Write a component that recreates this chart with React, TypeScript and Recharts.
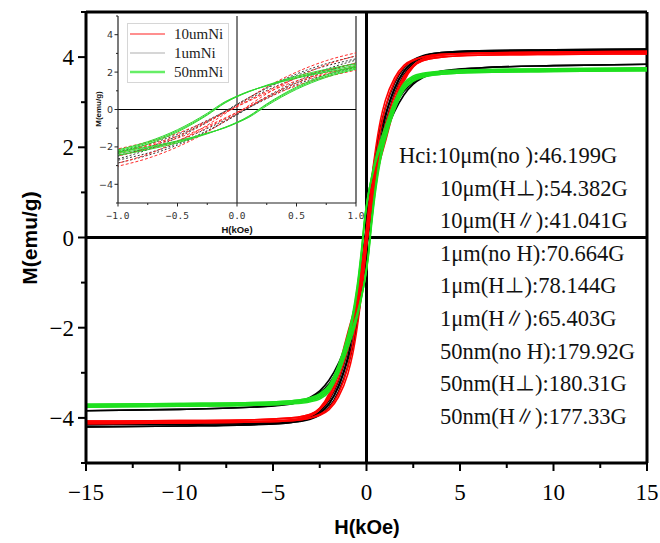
import { LineChart, Line, XAxis, YAxis, ReferenceLine } from "recharts";

// applied field grid (kOe), shared by every branch below
const fieldH = [-15, -10, -6, -4, -3, -2.5, -2, -1.5, -1, -0.75, -0.5, -0.25, -0.1, 0, 0.1, 0.25, 0.5, 0.75, 1, 1.5, 2, 2.5, 3, 4, 6, 10, 15];

const black1Down = [-4.2, -4.18, -4.15, -4.1, -4.01, -3.9, -3.68, -3.28, -2.64, -2.15, -1.5, -0.69, -0.12, 0.27, 0.64, 1.17, 1.9, 2.45, 2.86, 3.42, 3.76, 3.94, 4.03, 4.1, 4.14, 4.16, 4.18];
const black1Up = [-4.2, -4.18, -4.15, -4.1, -4.03, -3.94, -3.76, -3.42, -2.86, -2.45, -1.9, -1.17, -0.64, -0.27, 0.12, 0.69, 1.5, 2.15, 2.64, 3.28, 3.68, 3.9, 4.01, 4.1, 4.14, 4.16, 4.18];
const black2Down = [-3.84, -3.81, -3.76, -3.67, -3.54, -3.4, -3.16, -2.79, -2.26, -1.86, -1.33, -0.58, -0.1, 0.23, 0.56, 1.02, 1.67, 2.1, 2.44, 2.91, 3.24, 3.44, 3.56, 3.69, 3.76, 3.81, 3.84];
const black2Up = [-3.84, -3.81, -3.76, -3.69, -3.56, -3.44, -3.24, -2.91, -2.44, -2.1, -1.67, -1.02, -0.56, -0.23, 0.1, 0.58, 1.33, 1.86, 2.26, 2.79, 3.16, 3.4, 3.54, 3.67, 3.76, 3.81, 3.84];
const black3Down = [-4.15, -4.14, -4.12, -4.08, -3.98, -3.86, -3.61, -3.18, -2.49, -2.03, -1.42, -0.63, -0.09, 0.28, 0.63, 1.13, 1.82, 2.33, 2.71, 3.32, 3.69, 3.9, 4.0, 4.08, 4.12, 4.14, 4.15];
const black3Up = [-4.15, -4.14, -4.12, -4.08, -4.0, -3.9, -3.69, -3.32, -2.71, -2.33, -1.82, -1.13, -0.63, -0.28, 0.09, 0.63, 1.42, 2.03, 2.49, 3.18, 3.61, 3.86, 3.98, 4.08, 4.12, 4.14, 4.15];
const red1Down = [-4.13, -4.11, -4.09, -4.06, -4.0, -3.92, -3.78, -3.46, -2.87, -2.39, -1.7, -0.84, -0.22, 0.21, 0.62, 1.2, 2.0, 2.61, 3.03, 3.54, 3.82, 3.94, 4.0, 4.06, 4.09, 4.11, 4.13];
const red1Up = [-4.13, -4.11, -4.09, -4.06, -4.0, -3.94, -3.82, -3.54, -3.03, -2.61, -2.0, -1.2, -0.62, -0.21, 0.22, 0.84, 1.7, 2.39, 2.87, 3.46, 3.78, 3.92, 4.0, 4.06, 4.09, 4.11, 4.13];
const red2Down = [-4.07, -4.06, -4.04, -4.0, -3.92, -3.79, -3.52, -3.05, -2.32, -1.9, -1.42, -0.67, -0.17, 0.16, 0.49, 0.97, 1.68, 2.1, 2.48, 3.15, 3.58, 3.81, 3.92, 4.0, 4.04, 4.06, 4.07];
const red2Up = [-4.07, -4.06, -4.04, -4.0, -3.92, -3.81, -3.58, -3.15, -2.48, -2.1, -1.68, -0.97, -0.49, -0.16, 0.17, 0.67, 1.42, 1.9, 2.32, 3.05, 3.52, 3.79, 3.92, 4.0, 4.04, 4.06, 4.07];
const red3Down = [-4.1, -4.09, -4.08, -4.04, -3.94, -3.78, -3.46, -2.89, -2.11, -1.74, -1.27, -0.61, -0.15, 0.15, 0.45, 0.89, 1.53, 1.96, 2.29, 3.01, 3.54, 3.82, 3.96, 4.04, 4.08, 4.09, 4.1];
const red3Up = [-4.1, -4.09, -4.08, -4.04, -3.96, -3.82, -3.54, -3.01, -2.29, -1.96, -1.53, -0.89, -0.45, -0.15, 0.15, 0.61, 1.27, 1.74, 2.11, 2.89, 3.46, 3.78, 3.94, 4.04, 4.08, 4.09, 4.1];
const green1Down = [-3.76, -3.74, -3.72, -3.68, -3.62, -3.55, -3.38, -2.95, -2.3, -1.85, -1.2, -0.3, 0.35, 0.68, 0.95, 1.3, 1.78, 2.15, 2.45, 3.02, 3.42, 3.58, 3.64, 3.69, 3.72, 3.74, 3.76];
const green1Up = [-3.76, -3.74, -3.72, -3.69, -3.64, -3.58, -3.42, -3.02, -2.45, -2.15, -1.78, -1.3, -0.95, -0.68, -0.35, 0.3, 1.2, 1.85, 2.3, 2.95, 3.38, 3.55, 3.62, 3.68, 3.72, 3.74, 3.76];
const green2Down = [-3.73, -3.71, -3.69, -3.65, -3.58, -3.5, -3.32, -2.88, -2.22, -1.78, -1.14, -0.26, 0.38, 0.7, 0.96, 1.28, 1.72, 2.06, 2.36, 2.94, 3.36, 3.53, 3.6, 3.66, 3.69, 3.71, 3.73];
const green2Up = [-3.73, -3.71, -3.69, -3.66, -3.6, -3.53, -3.36, -2.94, -2.36, -2.06, -1.72, -1.28, -0.96, -0.7, -0.38, 0.26, 1.14, 1.78, 2.22, 2.88, 3.32, 3.5, 3.58, 3.65, 3.69, 3.71, 3.73];
const green3Down = [-3.7, -3.68, -3.66, -3.62, -3.55, -3.46, -3.27, -2.82, -2.16, -1.72, -1.08, -0.2, 0.42, 0.72, 0.98, 1.26, 1.68, 2.0, 2.28, 2.88, 3.3, 3.49, 3.56, 3.62, 3.66, 3.68, 3.7];
const green3Up = [-3.7, -3.68, -3.66, -3.62, -3.56, -3.49, -3.3, -2.88, -2.28, -2.0, -1.68, -1.26, -0.98, -0.72, -0.42, 0.2, 1.08, 1.72, 2.16, 2.82, 3.27, 3.46, 3.55, 3.62, 3.66, 3.68, 3.7];

const loops = [
    { id: "b1", group: "black", down: black1Down, up: black1Up },
    { id: "b2", group: "black", down: black2Down, up: black2Up },
    { id: "b3", group: "black", down: black3Down, up: black3Up },
    { id: "r1", group: "red", down: red1Down, up: red1Up },
    { id: "r2", group: "red", down: red2Down, up: red2Up },
    { id: "r3", group: "red", down: red3Down, up: red3Up },
    { id: "g1", group: "green", down: green1Down, up: green1Up },
    { id: "g2", group: "green", down: green2Down, up: green2Up },
    { id: "g3", group: "green", down: green3Down, up: green3Up },
];

const legendNames = ["10umNi", "1umNi", "50nmNi"];
const hciLabels = [
    "Hci:10μm(no ):46.199G",
    "10μm(H⊥):54.382G",
    "10μm(H∥):41.041G",
    "1μm(no H):70.664G",
    "1μm(H⊥):78.144G",
    "1μm(H∥):65.403G",
    "50nm(no H):179.92G",
    "50nm(H⊥):180.31G",
    "50nm(H∥):177.33G",
];

const mainXTicks = [-15, -12.5, -10, -7.5, -5, -2.5, 0, 2.5, 5, 7.5, 10, 12.5, 15];
const mainYTicks = [-5, -4, -3, -2, -1, 0, 1, 2, 3, 4, 5];
const insetXTicks = [-1, -0.75, -0.5, -0.25, 0, 0.25, 0.5, 0.75, 1];
const insetYTicks = [-5, -4, -3, -2, -1, 0, 1, 2, 3, 4, 5];

const mainColor: Record<string, string> = { black: "#000000", red: "#ff0000", green: "#1ee01e" };
const insetColor: Record<string, string> = { black: "#3a3a3a", red: "#ff2a2a", green: "#2ed82e" };
const insetDash: Record<string, string | undefined> = { black: "2 2", red: "3 2", green: undefined };
const legendColor = ["#ff6a6a", "#c8c8c8", "#66ee66"];

const toPoints = (vals: number[]) => fieldH.map((h, i) => ({ h, m: vals[i] }));

const SERIF = "'Liberation Serif', 'Times New Roman', serif";
const SANS = "'Liberation Sans', Arial, sans-serif";

const fmt = (v: number, digits = 0) => (v < 0 ? "\u2212" : "") + Math.abs(v).toFixed(digits);

function MainXTick({ x, y, payload }: any) {
    const v = payload.value;
    const major = v % 5 === 0;
    return (
        <g>
            <line x1={x} x2={x} y1={y} y2={y + (major ? 8 : 5)} stroke="#000" strokeWidth={2} />
            {major && (
                <text x={x} y={y + 37} textAnchor="middle" fontSize={23} fontFamily={SERIF} fill="#000">
                    {fmt(v)}
                </text>
            )}
        </g>
    );
}

function MainYTick({ x, y, payload }: any) {
    const v = payload.value;
    const major = v % 2 === 0;
    return (
        <g>
            <line x1={x} x2={x - (major ? 8 : 5)} y1={y} y2={y} stroke="#000" strokeWidth={2} />
            {major && (
                <text x={x - 12} y={y + 8} textAnchor="end" fontSize={23} fontFamily={SERIF} fill="#000">
                    {fmt(v)}
                </text>
            )}
        </g>
    );
}

function InsetXTick({ x, y, payload }: any) {
    const v = payload.value;
    const major = Math.abs(v * 2 - Math.round(v * 2)) < 1e-9;
    return (
        <g>
            <line x1={x} x2={x} y1={y} y2={y + (major ? 3.5 : 2)} stroke="#222" strokeWidth={1} />
            {major && (
                <text x={x} y={y + 16} textAnchor="middle" fontSize={9.5} fontFamily="'DejaVu Sans Mono', monospace" fill="#333">
                    {fmt(v, 1)}
                </text>
            )}
        </g>
    );
}

function InsetYTick({ x, y, payload }: any) {
    const v = payload.value;
    const major = v % 2 === 0;
    return (
        <g>
            <line x1={x} x2={x - (major ? 3.5 : 2)} y1={y} y2={y} stroke="#222" strokeWidth={1} />
            {major && (
                <text x={x - 5} y={y + 3.5} textAnchor="end" fontSize={9.5} fontFamily="'DejaVu Sans', sans-serif" fill="#333">
                    {fmt(v)}
                </text>
            )}
        </g>
    );
}

function LabelLine({ text, x, y }: { text: string; x: number; y: number }) {
    const parts = text.split(/([⊥∥])/);
    return (
        <text x={x} y={y} fontSize={22.5} fontFamily={SERIF} fill="#111">
            {parts.map((p, i) =>
                p === "⊥" || p === "∥" ? (
                    <tspan key={i} fontFamily="'Noto Sans CJK SC', sans-serif" fontSize={20}>
                        {p}
                    </tspan>
                ) : (
                    <tspan key={i}>{p}</tspan>
                )
            )}
        </text>
    );
}

export default function App() {
    const lineEls = (inset: boolean) =>
        loops.flatMap((lp) =>
            [
                { key: lp.id + "d", vals: lp.down },
                { key: lp.id + "u", vals: lp.up },
            ].map((br) => (
                <Line
                    key={br.key}
                    data={toPoints(br.vals)}
                    dataKey="m"
                    type="monotone"
                    dot={false}
                    isAnimationActive={false}
                    stroke={inset ? insetColor[lp.group] : mainColor[lp.group]}
                    strokeWidth={inset ? 1 : 1.6}
                    strokeDasharray={inset ? insetDash[lp.group] : undefined}
                />
            ))
        );

    return (
        <div style={{ position: "absolute", left: 0, top: 0, width: 660, height: 543, background: "#fff" }}>
            <LineChart width={660} height={543} margin={{ top: 12, right: 13, bottom: 0, left: 0 }}>
                <XAxis
                    type="number"
                    dataKey="h"
                    domain={[-15, 15]}
                    ticks={mainXTicks}
                    interval={0}
                    tickSize={0}
                    tickMargin={0}
                    tickLine={false}
                    tick={(p: any) => <MainXTick {...p} />}
                    axisLine={{ stroke: "#000", strokeWidth: 3 }}
                    height={80}
                    allowDataOverflow
                />
                <YAxis
                    type="number"
                    domain={[-5, 5]}
                    ticks={mainYTicks}
                    interval={0}
                    tickSize={0}
                    tickMargin={0}
                    tickLine={false}
                    tick={(p: any) => <MainYTick {...p} />}
                    axisLine={{ stroke: "#000", strokeWidth: 3 }}
                    width={86}
                    allowDataOverflow
                />
                <ReferenceLine y={5} stroke="#000" strokeWidth={3} />
                <ReferenceLine x={15} stroke="#000" strokeWidth={3} />
                <ReferenceLine x={0} stroke="#000" strokeWidth={3} />
                <ReferenceLine y={0} stroke="#000" strokeWidth={3} />
                {lineEls(false)}
            </LineChart>

            {/* inset: white backing, then a slightly wider chart so the 1.0 label is not clipped */}
            <div style={{ position: "absolute", left: 88, top: 14, width: 272, height: 222, background: "#fff" }} />
            <div style={{ position: "absolute", left: 88, top: 14, width: 284, height: 222 }}>
                <LineChart width={284} height={222} margin={{ top: 2, right: 16, bottom: 0, left: 0 }}>
                    <XAxis
                        type="number"
                        dataKey="h"
                        domain={[-1, 1]}
                        ticks={insetXTicks}
                        interval={0}
                        tickSize={0}
                        tickMargin={0}
                        tickLine={false}
                        tick={(p: any) => <InsetXTick {...p} />}
                        axisLine={{ stroke: "#222", strokeWidth: 1.2 }}
                        height={33}
                        allowDataOverflow
                    />
                    <YAxis
                        type="number"
                        domain={[-5, 5]}
                        ticks={insetYTicks}
                        interval={0}
                        tickSize={0}
                        tickMargin={0}
                        tickLine={false}
                        tick={(p: any) => <InsetYTick {...p} />}
                        axisLine={{ stroke: "#222", strokeWidth: 1.2 }}
                        width={30}
                        allowDataOverflow
                    />
                    <ReferenceLine x={1} stroke="#222" strokeWidth={1.2} />
                    <ReferenceLine x={0} stroke="#000" strokeWidth={1} />
                    <ReferenceLine y={0} stroke="#000" strokeWidth={1} />
                    {lineEls(true)}
                </LineChart>
            </div>

            <svg width={660} height={543} style={{ position: "absolute", left: 0, top: 0, pointerEvents: "none" }}>
                {/* inset legend */}
                <rect x={127.5} y={23.5} width={101} height={59} fill="#fff" stroke="#d6d6d6" strokeWidth={1} />
                {legendNames.map((name, i) => (
                    <g key={name}>
                        <line x1={130} x2={165} y1={34 + i * 19} y2={34 + i * 19} stroke={legendColor[i]} strokeWidth={i === 2 ? 2.5 : 1.3} />
                        <text x={174} y={39 + i * 19} fontSize={15} fontFamily={SERIF} fill="#222">
                            {name}
                        </text>
                    </g>
                ))}
                {/* inset axis titles */}
                <text x={237} y={233} textAnchor="middle" fontSize={9.5} fontWeight="bold" fontFamily={SANS} fill="#111">
                    H(kOe)
                </text>
                <text transform="translate(101,109) rotate(-90)" textAnchor="middle" fontSize={8} fontWeight="bold" fontFamily={SANS} fill="#111">
                    M(emu/g)
                </text>

                {/* main axis titles */}
                <text x={367} y={534} textAnchor="middle" fontSize={20} fontWeight="bold" fontFamily={SANS} fill="#000">
                    H(kOe)
                </text>
                <text transform="translate(37,238) rotate(-90)" textAnchor="middle" fontSize={21} fontWeight="bold" fontFamily={SANS} fill="#000">
                    M(emu/g)
                </text>

                {/* coercivity notes */}
                {hciLabels.map((t, i) => (
                    <LabelLine key={t} text={t} x={i === 0 ? 399 : 440} y={163 + i * 32.6} />
                ))}
            </svg>
        </div>
    );
}
